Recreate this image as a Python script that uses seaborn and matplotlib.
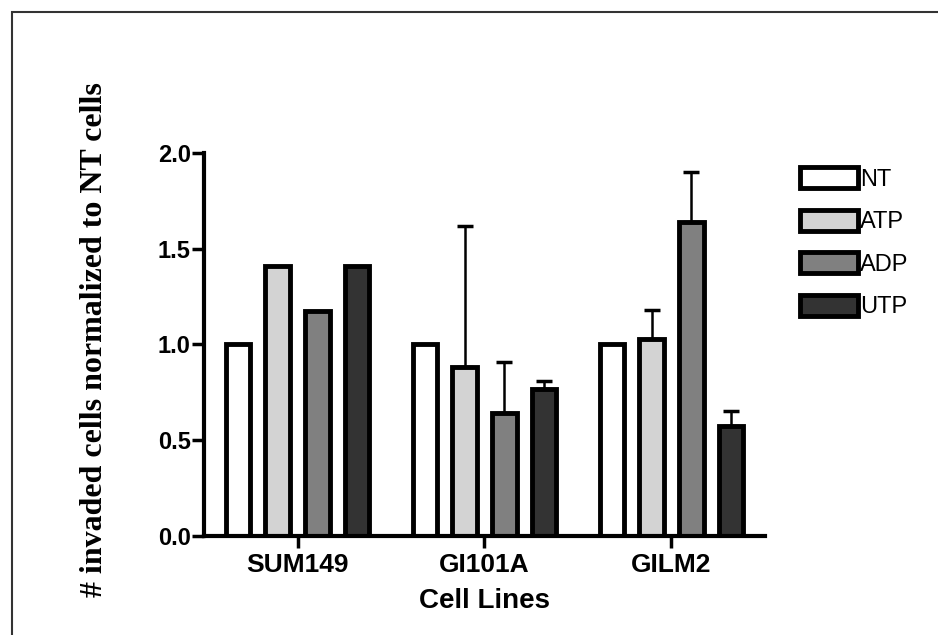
import numpy as np
import pandas as pd
import matplotlib
matplotlib.use('Agg')
import matplotlib.pyplot as plt
from matplotlib.patches import Rectangle
import seaborn as sns

cell_lines = ['SUM149', 'GI101A', 'GILM2']
treatments = ['NT', 'ATP', 'ADP', 'UTP']

# mean values, one list per treatment
nt_vals = [1.00, 1.00, 1.00]
atp_vals = [1.41, 0.88, 1.03]
adp_vals = [1.175, 0.64, 1.64]
utp_vals = [1.41, 0.77, 0.575]

# upper error (SEM) per treatment
nt_err = [0.0, 0.0, 0.0]
atp_err = [0.0, 0.74, 0.15]
adp_err = [0.0, 0.27, 0.26]
utp_err = [0.0, 0.04, 0.075]

colors = ['#ffffff', '#d3d3d3', '#808080', '#333333']

vals = [nt_vals, atp_vals, adp_vals, utp_vals]
errs = [nt_err, atp_err, adp_err, utp_err]

rows = []
for t, v in zip(treatments, vals):
    for c, y in zip(cell_lines, v):
        rows.append({'Cell Lines': c, 'Treatment': t, 'value': y})
df = pd.DataFrame(rows)

sns.set_style('ticks', {'axes.edgecolor': 'black', 'text.color': 'black',
                        'xtick.color': 'black', 'ytick.color': 'black'})
plt.rcParams['font.family'] = ['Liberation Sans', 'DejaVu Sans']

fig = plt.figure(figsize=(9.38, 6.35), dpi=100)
ax = fig.add_axes([0.2175, 0.156, 0.598, 0.603])

sns.barplot(data=df, x='Cell Lines', y='value', hue='Treatment',
            order=cell_lines, hue_order=treatments, palette=colors,
            errorbar=None, edgecolor='black', linewidth=3.5, gap=0.38,
            width=0.85, saturation=1, ax=ax)

# upward-only error bars
for cont, e in zip(ax.containers, errs):
    xs = [b.get_x() + b.get_width() / 2 for b in cont]
    ys = [b.get_height() for b in cont]
    for x, y, er in zip(xs, ys, e):
        if er > 0:
            ax.errorbar(x, y, yerr=[[0], [er]], fmt='none', ecolor='black',
                        elinewidth=1.8, capsize=6, capthick=2.5, zorder=1)

ax.set_xlim(-0.5, 2.5)
ax.set_ylim(0, 2.0)
ax.set_yticks([0.0, 0.5, 1.0, 1.5, 2.0])
ax.set_yticklabels(['0.0', '0.5', '1.0', '1.5', '2.0'])
ax.tick_params(axis='both', direction='out', length=8.5, width=2.5,
               colors='black')
ax.tick_params(axis='y', pad=1, labelsize=17)
ax.tick_params(axis='x', pad=4, labelsize=19)
for lab in ax.get_xticklabels() + ax.get_yticklabels():
    lab.set_fontweight('bold')
sns.despine(ax=ax)
ax.spines['left'].set_linewidth(3)
ax.spines['bottom'].set_linewidth(3)

ax.set_xlabel('Cell Lines', fontsize=20, fontweight='bold', labelpad=8,
              color='black')
ax.set_ylabel('')
fig.text(0.101, 0.465, '# invaded cells normalized to NT cells',
         rotation=90, ha='center', va='center', fontsize=23,
         fontweight='bold', family='Liberation Serif', color='black')

handles, labels = ax.get_legend_handles_labels()
ax.legend(handles, labels, loc='upper left', bbox_to_anchor=(0.853, 0.737),
          bbox_transform=fig.transFigure, frameon=False, fontsize=17,
          handlelength=2.45, handleheight=1.0, handletextpad=0.1,
          labelspacing=0.8, borderpad=0, borderaxespad=0)

# outer frame of the original figure
fig.patches.append(Rectangle((0.0128, -0.2), 1.2, 1.181, transform=fig.transFigure,
                             fill=False, edgecolor='#333333', linewidth=1.5))

fig.savefig('out.png', dpi=100)
